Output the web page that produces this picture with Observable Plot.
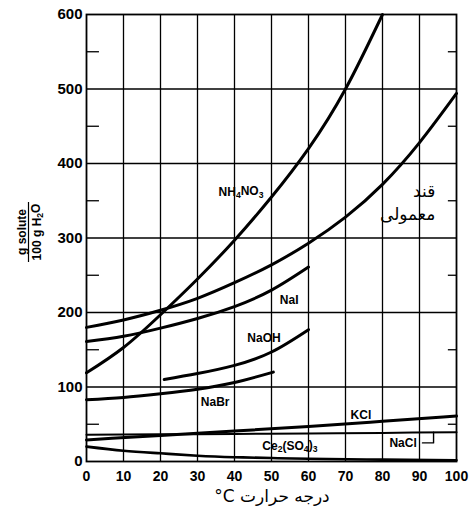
<!DOCTYPE html>
<html><head><meta charset="utf-8">
<script src="https://cdn.jsdelivr.net/npm/d3@7"></script>
<script src="https://cdn.jsdelivr.net/npm/@observablehq/plot@0.6"></script>
<style>body{margin:0;background:#fff}</style>
</head><body><div id="chart"></div>
<script>
// ---- data (temperature °C, g solute / 100 g H2O) ----
const xTicks = [0,10,20,30,40,50,60,70,80,90,100];
const yTicks = [0,100,200,300,400,500,600];
const yMinor = [50,150,250,350,450,550];

const nh4no3T = [0,10,20,30,40,50,60,70,80];
const nh4no3S = [119,153,197,245,297,355,420,500,600];
const sugarT = [0,10,20,30,40,50,60,70,80,90,100];
const sugarS = [180,190,203,219,240,264,293,328,372,428,494];
const naiT = [0,10,20,30,40,50,60];
const naiS = [161,168,179,192,208,230,261];
const naohT = [21,30,40,50,60];
const naohS = [110,118,129,147,177];
const nabrT = [0,10,20,30,40,50.5];
const nabrS = [83,86,91,97,106,120];
const kclT = [0,20,40,60,80,100];
const kclS = [29,35,41,47,54,61];
const naclT = [0,20,40,60,80,100];
const naclS = [36,36.5,37,37.6,38.4,39.4];
const ceT = [0,10,20,30,40,50,60,80,100];
const ceS = [20,14.5,11,7.8,5.8,4.6,3.6,2.5,1.6];

// labels (annotation anchors in data units)
const labelText = ["NH_4NO_3","NaI","NaOH","NaBr","KCl","NaCl","Ce_2(SO_4)_3"];
const labelX = [41.9,54.9,48.1,34.9,74.3,85.7,55.1];
const labelY = [362,217,166,80,62,25,21];
const sugarLabel = ["قند","معمولی"];
const sugarLabelX = [94.4,94.4];
const sugarLabelY = [362,332];
const bracketX = [90.8,93.8,93.8];
const bracketY = [25,25,39.3];

const series = [
  {t: nh4no3T, s: nh4no3S, w: 3},
  {t: sugarT, s: sugarS, w: 3},
  {t: naiT, s: naiS, w: 3},
  {t: naohT, s: naohS, w: 3},
  {t: nabrT, s: nabrS, w: 3},
  {t: kclT, s: kclS, w: 3},
  {t: naclT, s: naclS, w: 2},
  {t: ceT, s: ceS, w: 2.6}
];

const chart = Plot.plot({
  width: 471, height: 515,
  marginLeft: 86, marginRight: 15, marginTop: 14, marginBottom: 54,
  style: {fontFamily: "'Liberation Sans', Arial, sans-serif", background: "white", color: "black", overflow: "visible"},
  x: {domain: [0,100]},
  y: {domain: [0,600]},
  marks: [
    Plot.ruleX(xTicks.slice(1,-1), {stroke: "black", strokeWidth: 1.3}),
    Plot.ruleY(yTicks.slice(1,-1), {stroke: "black", strokeWidth: 1.3}),
    Plot.ruleY(yMinor, {x1: 0, x2: 3.5, stroke: "black", strokeWidth: 1.3}),
    Plot.ruleY(yMinor, {x1: 97.8, x2: 100, stroke: "black", strokeWidth: 1.3}),
    Plot.frame({stroke: "black", strokeWidth: 1.8}),
    Plot.axisX({ticks: xTicks, tickSize: 0, tickPadding: 10, fontSize: 14, fontWeight: "bold", label: null}),
    Plot.axisY({ticks: yTicks, tickSize: 0, tickPadding: 4, fontSize: 15, fontWeight: "bold", label: null}),
    ...series.map(d => Plot.line(d.t.map((t,i) => ({t, s: d.s[i]})), {x: "t", y: "s", curve: "natural", stroke: "black", strokeWidth: d.w, strokeLinecap: "round"})),
    Plot.line(bracketX.map((x,i) => ({x, y: bracketY[i]})), {x: "x", y: "y", stroke: "black", strokeWidth: 1.4})
  ]
});
document.getElementById("chart").appendChild(chart);

const svg = d3.select(chart);
const sx = chart.scale("x"), sy = chart.scale("y");

// "_" marks the next character as a subscript
function richText(sel, str) {
  let shifted = false;
  for (let i = 0; i < str.length; i++) {
    if (str[i] === "_") {
      sel.append("tspan").attr("font-size", "0.72em").attr("dy", "0.3em").text(str[i+1]);
      shifted = true;
      i++;
    } else {
      const ts = sel.append("tspan").text(str[i]);
      if (shifted) { ts.attr("dy", "-0.22em"); shifted = false; }
    }
  }
}

labelText.forEach((t, i) => {
  const tx = svg.append("text")
    .attr("x", sx.apply(labelX[i])).attr("y", sy.apply(labelY[i]))
    .attr("text-anchor", "middle").attr("dy", "0.35em")
    .attr("font-size", 12).attr("font-weight", "bold")
    .attr("font-family", "'Liberation Sans', Arial, sans-serif");
  richText(tx, t);
});

sugarLabel.forEach((t, i) => {
  svg.append("text")
    .attr("x", sx.apply(sugarLabelX[i])).attr("y", sy.apply(sugarLabelY[i]))
    .attr("text-anchor", "end").attr("dy", "0.35em")
    .attr("font-size", 17)
    .attr("font-family", "'DejaVu Sans', sans-serif")
    .text(t);
});

// y-axis label: fraction, rotated
const yl = svg.append("g").attr("transform", "translate(28.5,232) rotate(-90)")
  .attr("font-family", "'Liberation Sans', Arial, sans-serif").attr("font-weight", "bold").attr("font-size", 12);
yl.append("text").attr("x", 0).attr("y", -3).attr("text-anchor", "middle").text("g solute");
yl.append("line").attr("x1", -30).attr("x2", 30).attr("y1", 0).attr("y2", 0).attr("stroke", "black").attr("stroke-width", 1.2);
const yl2 = yl.append("text").attr("x", 0).attr("y", 12).attr("text-anchor", "middle");
richText(yl2, "100 g H_2O");

// x-axis title
svg.append("text").attr("x", 272).attr("y", 502).attr("text-anchor", "middle")
  .attr("font-size", 17).attr("font-family", "'DejaVu Sans', sans-serif")
  .text("°C درجه حرارت");
</script></body></html>
